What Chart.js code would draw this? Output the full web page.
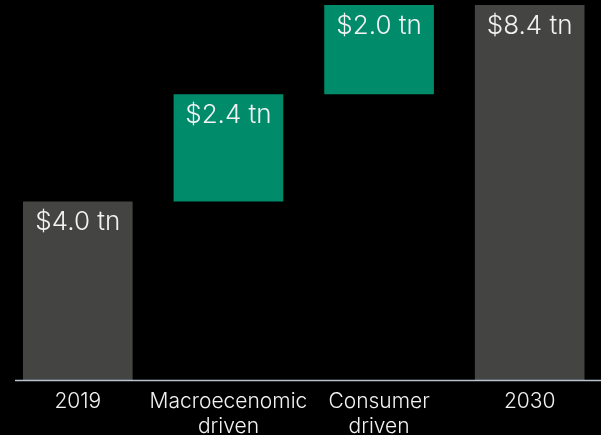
<!DOCTYPE html>
<html>
<head>
<meta charset="utf-8">
<script src="https://cdn.jsdelivr.net/npm/chart.js@4"></script>
<style>
  html, body { margin: 0; padding: 0; background: #000; overflow: hidden; }
  #wrap { position: relative; width: 605px; height: 435px; }
</style>
</head>
<body>
<div id="wrap"><canvas id="chart"></canvas></div>
<script>
const categories = [['2019'], ['Macroecenomic', 'driven'], ['Consumer', 'driven'], ['2030']];
const barStarts = [0, 4.0, 6.4, 0];
const barEnds = [4.0, 6.4, 8.4, 8.4];
const barColors = ['#444443', '#008b6b', '#008b6b', '#444443'];

const TEXT = '#f2f2f2';
const FONT = 'Inter, Roboto, "Liberation Sans", sans-serif';

// white "$x.x tn" inside the top of every bar
const valueLabels = {
  id: 'valueLabels',
  afterDatasetsDraw(chart) {
    const ctx = chart.ctx;
    const meta = chart.getDatasetMeta(0);
    ctx.save();
    ctx.fillStyle = TEXT;
    ctx.font = '300 26px ' + FONT;
    ctx.textAlign = 'center';
    ctx.textBaseline = 'middle';
    meta.data.forEach((bar, i) => {
      const v = barEnds[i] - barStarts[i];
      const top = chart.scales.y.getPixelForValue(barEnds[i]);
      ctx.fillText('$' + v.toFixed(1) + ' tn', bar.x, top + 21);
    });
    ctx.restore();
  }
};

// thin baseline under the bars
const baseline = {
  id: 'baseline',
  afterDatasetsDraw(chart) {
    const ctx = chart.ctx;
    const y = chart.scales.y.getPixelForValue(0) + 0.5;
    ctx.save();
    ctx.strokeStyle = '#b9c3ce';
    ctx.lineWidth = 1.5;
    ctx.beginPath();
    ctx.moveTo(15, y);
    ctx.lineTo(chart.width, y);
    ctx.stroke();
    ctx.restore();
  }
};

new Chart(document.getElementById('chart'), {
  type: 'bar',
  data: {
    labels: categories,
    datasets: [{
      data: barStarts.map((s, i) => [s, barEnds[i]]),
      backgroundColor: barColors,
      borderWidth: 0,
      categoryPercentage: 1,
      barPercentage: 0.728
    }]
  },
  options: {
    responsive: true,
    maintainAspectRatio: false,
    animation: false,
    layout: { padding: { top: 5, left: 2.5, right: 0, bottom: 0 } },
    plugins: { legend: { display: false }, tooltip: { enabled: false } },
    scales: {
      x: {
        grid: { display: false, drawTicks: false },
        border: { display: false },
        afterFit(scale) { scale.height = 55; },
        ticks: {
          color: TEXT,
          font: { family: FONT, size: 21, weight: '300', lineHeight: 1.2 },
          padding: 9,
          maxRotation: 0,
          autoSkip: false
        }
      },
      y: {
        display: false,
        min: 0,
        max: 8.4
      }
    }
  },
  plugins: [valueLabels, baseline]
});
</script>
</body>
</html>
